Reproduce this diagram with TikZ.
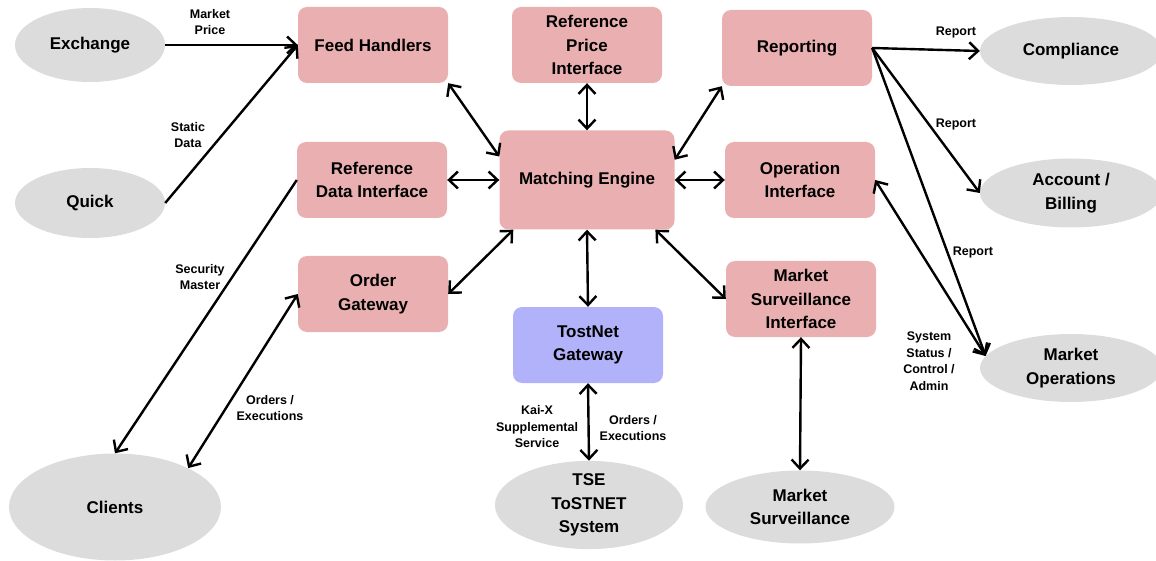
\documentclass[tikz,border=0pt]{standalone}
\usepackage{fontspec}
\setmainfont{Liberation Sans}
\usetikzlibrary{arrows.meta,positioning,shapes.geometric}

\definecolor{boxpink}{HTML}{EAB0B1}
\definecolor{boxblue}{HTML}{B2B2FA}
\definecolor{extgray}{HTML}{DCDCDC}

\begin{document}
\begin{tikzpicture}[
		x=1pt, y=-1pt,
		>={Straight Barb[length=9pt,width=17pt]},
		arrow/.style={->, line width=2.4pt},
		darrow/.style={<->, line width=2.4pt},
		block/.style={rounded corners=9pt, fill=boxpink, minimum height=76pt, minimum width=150pt, align=center, font=\fontsize{17}{23.5}\selectfont\bfseries},
		extern/.style={ellipse, fill=extgray, inner sep=0pt, align=center, font=\fontsize{17}{23.5}\selectfont\bfseries},
		lbl/.style={align=center, font=\fontsize{12.5}{16.5}\selectfont\bfseries},
	]
		\useasboundingbox (0,0) rectangle (1156,561);
		% external parties
		\node (exch) [extern, minimum width=150pt, minimum height=74pt] at (90,45) {Exchange};
		\node (quick) [extern, minimum width=150pt, minimum height=70pt] at (90,203) {Quick};
		\node (clients) [extern, minimum width=212pt, minimum height=107pt] at (115,507) {Clients};
		\node (tse) [extern, minimum width=188pt, minimum height=74pt] at (589,505) {TSE\\ToSTNET\\System};
		\node (msurv) [extern, minimum width=189pt, minimum height=73pt] at (800,507) {Market\\Surveillance};
		\node (comp) [extern, minimum width=182pt, minimum height=68pt] at (1071,51) {Compliance};
		\node (acct) [extern, minimum width=182pt, minimum height=69pt] at (1071,193) {Account /\\Billing};
		\node (mops) [extern, minimum width=182pt, minimum height=68pt] at (1071,368) {Market\\Operations};
		% system blocks
		\node (feed) [block] at (373,45) {Feed Handlers};
		\node (refd) [block] at (372,180) {Reference\\Data Interface};
		\node (ordgw) [block] at (373,294) {Order\\Gateway};
		\node (refp) [block] at (587,45) {Reference\\Price\\Interface};
		\node (me) [block, minimum width=175pt, minimum height=99pt] at (587,180) {Matching Engine};
		\node (rep) [block] at (797,48) {Reporting};
		\node (opif) [block] at (800,180) {Operation\\Interface};
		\node (tost) [block, fill=boxblue] at (588,345) {TostNet\\Gateway};
		\node (msif) [block] at (801,299) {Market\\Surveillance\\Interface};

		% connectors
		\draw[arrow] (exch.east) -- (feed.west);
		\draw[arrow] (quick.east) -- (feed.west);
		\draw[arrow] (refd.west) -- (clients.north);
		\draw[darrow] (ordgw.west) -- (clients.28);
		\draw[darrow] (feed.south east) -- (me.165);
		\draw[darrow] (refd.east) -- (me.west);
		\draw[darrow] (ordgw.east) -- (me.214);
		\draw[darrow] (refp.south) -- (me.north);
		\draw[darrow] (me.13) -- (rep.south west);
		\draw[darrow] (me.east) -- (opif.west);
		\draw[darrow] (me.south) -- (tost.north);
		\draw[darrow] (me.-36) -- (msif.west);
		\draw[darrow] (tost.south) -- (tse.north);
		\draw[darrow] (msif.south) -- (msurv.north);
		\draw[arrow] (rep.east) -- (comp.west);
		\draw[arrow] (rep.east) -- (acct.west);
		\draw[arrow] (rep.east) -- (mops.172);
		\draw[darrow] (opif.east) -- (mops.172);

		% connector labels
		\node (lmkt) [lbl] at (210,22) {Market\\Price};
		\node (lstat) [lbl] at (188,135) {Static\\Data};
		\node (lsec) [lbl] at (200,277) {Security\\Master};
		\node (lord) [lbl] at (270,408) {Orders /\\Executions};
		\node (lkai) [lbl] at (537,427) {Kai-X\\Supplemental\\Service};
		\node (ltse) [lbl] at (633,428) {Orders /\\Executions};
		\node (lrep1) [lbl] at (956,33) {Report};
		\node (lrep2) [lbl] at (956,124) {Report};
		\node (lrep3) [lbl] at (973,252) {Report};
		\node (lsys) [lbl] at (929,361) {System\\Status /\\Control /\\Admin};
	\end{tikzpicture}
\end{document}
